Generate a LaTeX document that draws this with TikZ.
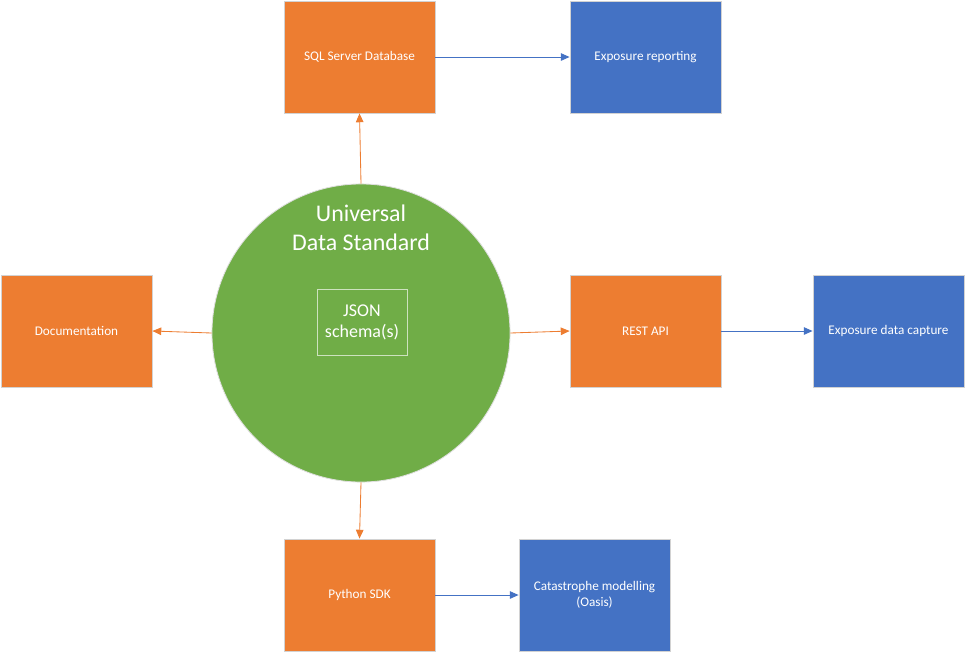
\documentclass[tikz,border=0pt]{standalone}
\usepackage{fontspec}
\setmainfont{Carlito}
\usepackage{xcolor}
\usepackage{tikz}
\usetikzlibrary{arrows.meta}
\definecolor{boxorange}{HTML}{ED7D31}
\definecolor{boxblue}{HTML}{4472C4}
\definecolor{udsgreen}{HTML}{70AD47}
\tikzset{
  toolbox/.style={draw=gray!35,line width=0.6pt,fill=boxorange,text=white,minimum width=3.775cm,minimum height=2.8cm,inner sep=0pt,align=center,font=\fontsize{9.4}{11.5}\selectfont},
  usebox/.style={toolbox,fill=boxblue},
  orangearrow/.style={draw=boxorange,line width=0.6pt,-{Triangle[length=2.2mm,width=1.9mm]}},
  bluearrow/.style={draw=boxblue,line width=0.6pt,-{Triangle[length=2.2mm,width=1.9mm]}}
}

\begin{document}
\begin{tikzpicture}[x=0.025cm,y=-0.025cm]

\useasboundingbox (0,0) rectangle (966,652);						% Rahmen

\node[circle,draw=gray!25,line width=0.6pt,fill=udsgreen,minimum size=7.45cm,inner sep=0pt] (uds) at (361,333) {};	% Kreis
\node[text=white,align=center,font=\fontsize{17}{20.5}\selectfont] (udstitle) at (361,228) {Universal\\Data Standard};	% Titel im Kreis
\node[draw=white!65!udsgreen,line width=0.6pt,text=white,align=center,minimum width=2.25cm,minimum height=1.65cm,inner sep=0pt,font=\fontsize{12.8}{15}\selectfont] (json) at (362,322) {JSON\\schema(s)};	% Schema Kasten

\node[toolbox] (sql) at (359.5,57) {SQL Server Database};		% oben
\node[toolbox] (doc) at (76.5,331) {Documentation};			% links
\node[toolbox] (rest) at (645.5,331) {REST API};				% rechts
\node[toolbox] (python) at (359.5,595) {Python SDK};			% unten

\node[usebox] (reporting) at (645.5,57) {Exposure reporting};		% oben rechts
\node[usebox] (capture) at (888.5,331) {Exposure data capture};	% rechts aussen
\node[usebox] (oasis) at (594.5,595) {Catastrophe modelling\\(Oasis)};	% unten rechts

\draw[orangearrow] (uds.north) -- (sql.south);				% Kreis nach oben
\draw[orangearrow] (uds.west) -- (doc.east);					% Kreis nach links
\draw[orangearrow] (uds.east) -- (rest.west);				% Kreis nach rechts
\draw[orangearrow] (uds.south) -- (python.north);				% Kreis nach unten

\draw[bluearrow] (sql.east) -- (reporting.west);				% Datenbank zu Reporting
\draw[bluearrow] (rest.east) -- (capture.west);				% API zu Erfassung
\draw[bluearrow] (python.east) -- (oasis.west);				% SDK zu Oasis

\end{tikzpicture}
\end{document}
